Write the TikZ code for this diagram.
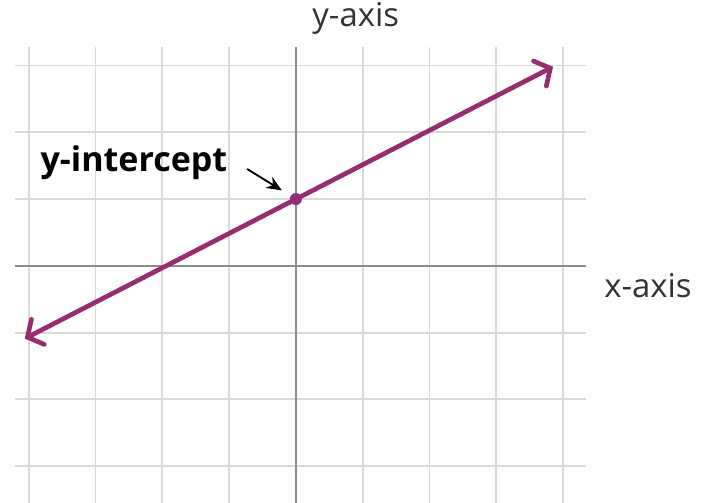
\documentclass[tikz,border=0pt]{standalone}
\usepackage{fontspec}
\setmainfont{Open Sans}
\usepackage{tikz}
\usetikzlibrary{arrows.meta,positioning}
\definecolor{lineP}{HTML}{962D73}
\definecolor{gridG}{HTML}{D9D9D9}
\definecolor{axisG}{HTML}{8C8C8C}
\definecolor{textG}{HTML}{333333}

\begin{document}
\begin{tikzpicture}[
  gridline/.style={draw=gridG, line width=0.8pt},
  axisline/.style={draw=axisG, line width=1pt},
  graphline/.style={draw=lineP, line width=2pt, line cap=round,
                    {Straight Barb[length=5pt,width=12pt,line cap=round]}-{Straight Barb[length=5pt,width=12pt,line cap=round]}},
  axlabel/.style={font=\fontsize{14}{17}\selectfont, text=textG, inner sep=0pt, anchor=base west},
  ptr/.style={-{Stealth[length=6.5pt,width=5.5pt]}, line width=0.8pt},
]
  \useasboundingbox (-4.43,-3.55) rectangle (6.20,3.98);

  % grid and axes
  \draw[gridline] (-4.21,-3.55) grid (4.34,3.28);
  \draw[axisline] (-4.21,0) -- (4.34,0);
  \draw[axisline] (0,-3.55) -- (0,3.28);

  \node[axlabel] (ylab) at (0.24,3.58) {y-axis};
  \node[axlabel] (xlab) at (4.61,-0.48) {x-axis};

  % the line y = mx + 1
  \coordinate (lo) at (-4.06,-1.09);
  \coordinate (hi) at (3.85,2.98);
  \draw[graphline] (lo) -- (hi);
  \node[circle, fill=lineP, inner sep=0pt, minimum size=0.18cm] (dot) at (0,1) {};

  \node[axlabel, text=black, font=\fontsize{14.5}{17}\selectfont\bfseries] (intlab) at (-3.83,1.41) {y-intercept};
  \coordinate (tail) at (-0.73,1.45);
  \draw[ptr, shorten >=0.15cm] (tail) -- (dot);
\end{tikzpicture}
\end{document}
